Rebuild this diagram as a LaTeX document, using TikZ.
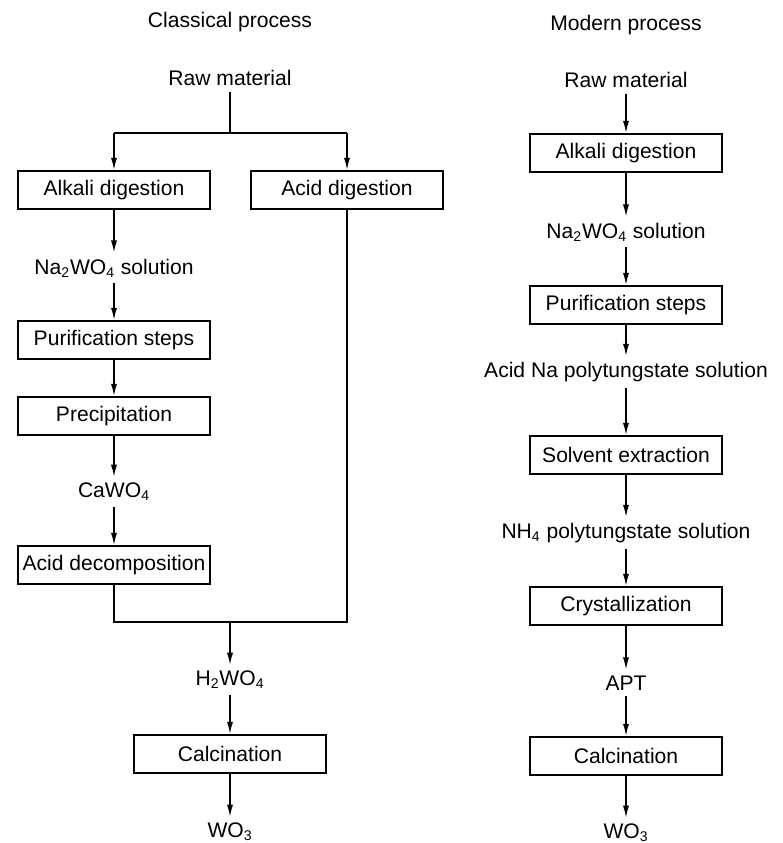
\documentclass[tikz,border=0pt]{standalone}
\usepackage{fontspec}
\setmainfont{Liberation Sans}
\usetikzlibrary{arrows.meta}
\begin{document}
\begin{tikzpicture}[x=0.02cm,y=-0.02cm,>={Latex[length=7pt,width=3.5pt]},
  every node/.style={font=\fontsize{12}{15}\selectfont,inner sep=3pt},
  stepbox/.style={draw,line width=1pt,inner xsep=1pt,minimum width=3.84cm,minimum height=0.76cm},
  every path/.style={line width=0.9pt}]
\useasboundingbox (0,0) rectangle (783,843);
% classical process
\node (T1) at (230,22) {Classical process};
\node (R1) at (230,78) {Raw material};
\node[stepbox] (AD1) at (114,190) {Alkali digestion};
\node[stepbox] (AcD) at (347,190) {Acid digestion};
\node (N1) at (114,268) {Na\textsubscript{2}WO\textsubscript{4} solution};
\node[stepbox] (P1) at (114,340) {Purification steps};
\node[stepbox] (Pr) at (114,416) {Precipitation};
\node (Ca) at (114,492) {CaWO\textsubscript{4}};
\node[stepbox] (ADc) at (114,565) {Acid decomposition};
\node (H) at (230,680) {H\textsubscript{2}WO\textsubscript{4}};
\node[stepbox] (C1) at (230,754) {Calcination};
\node (W1) at (230,832) {WO\textsubscript{3}};
\coordinate (S) at (230,133);
\coordinate (SL) at (114,133);
\coordinate (SR) at (347,133);
\coordinate (J) at (230,622);
\draw (R1) -- (S);
\draw (SL) -- (SR);
\draw[->] (SL) -- (AD1);
\draw[->] (SR) -- (AcD);
\draw[->] (AD1) -- (N1);
\draw[->] (N1) -- (P1);
\draw[->] (P1) -- (Pr);
\draw[->] (Pr) -- (Ca);
\draw[->] (Ca) -- (ADc);
\draw (ADc) |- (J) -| (AcD);
\draw[->] (J) -- (H);
\draw[->] (H) -- (C1);
\draw[->] (C1) -- (W1);
% modern process
\node (T2) at (626,25) {Modern process};
\node (R2) at (626,80) {Raw material};
\node[stepbox] (AD2) at (626,153) {Alkali digestion};
\node (N2) at (626,232) {Na\textsubscript{2}WO\textsubscript{4} solution};
\node[stepbox] (P2) at (626,305) {Purification steps};
\node (PT) at (626,372) {Acid Na polytungstate solution};
\node[stepbox] (SE) at (626,455) {Solvent extraction};
\node (NH) at (626,533) {NH\textsubscript{4} polytungstate solution};
\node[stepbox] (Cr) at (626,606) {Crystallization};
\node (A) at (626,683) {APT};
\node[stepbox] (C2) at (626,756) {Calcination};
\node (W2) at (626,833) {WO\textsubscript{3}};
\draw[->] (R2) -- (AD2);
\draw[->] (AD2) -- (N2);
\draw[->] (N2) -- (P2);
\draw[->] (P2) -- (PT);
\draw[->] (PT) -- (SE);
\draw[->] (SE) -- (NH);
\draw[->] (NH) -- (Cr);
\draw[->] (Cr) -- (A);
\draw[->] (A) -- (C2);
\draw[->] (C2) -- (W2);
\end{tikzpicture}
\end{document}
